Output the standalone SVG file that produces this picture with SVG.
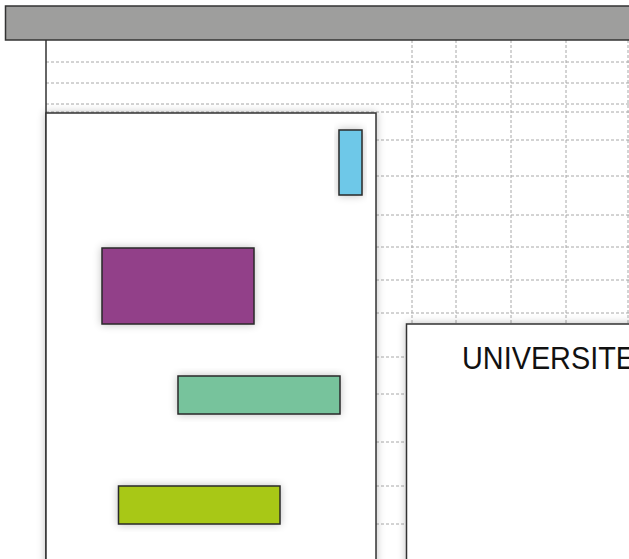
<svg xmlns="http://www.w3.org/2000/svg" width="629" height="559" viewBox="0 0 629 559">
<defs>
<style>
.grid{stroke:#a8a8a8;stroke-width:1;stroke-dasharray:3 2;fill:none}
.frame{fill:#ffffff;stroke:#333333;stroke-width:1.5}
.bar{stroke:#2a2a2a;stroke-width:1.5}
</style>
<filter id="sh" x="-20%" y="-20%" width="140%" height="140%">
<feGaussianBlur in="SourceAlpha" stdDeviation="4"/>
<feComponentTransfer><feFuncA type="linear" slope="0.25"/></feComponentTransfer>
<feMerge><feMergeNode/><feMergeNode in="SourceGraphic"/></feMerge>
</filter>
</defs>
<rect width="629" height="559" fill="#ffffff"/>
<g id="grid">
<g class="grid">
<line x1="46" y1="62" x2="629" y2="62"/>
<line x1="46" y1="83" x2="629" y2="83"/>
<line x1="46" y1="104" x2="629" y2="104"/>
<line x1="46" y1="112" x2="629" y2="112"/>
<line x1="376" y1="140" x2="629" y2="140"/>
<line x1="376" y1="176" x2="629" y2="176"/>
<line x1="376" y1="215" x2="629" y2="215"/>
<line x1="376" y1="247" x2="629" y2="247"/>
<line x1="376" y1="280" x2="629" y2="280"/>
<line x1="376" y1="313" x2="629" y2="313"/>
<line x1="376" y1="357" x2="406" y2="357"/>
<line x1="376" y1="394" x2="406" y2="394"/>
<line x1="376" y1="442" x2="406" y2="442"/>
<line x1="376" y1="486" x2="406" y2="486"/>
<line x1="376" y1="524" x2="406" y2="524"/>
<line x1="412" y1="40" x2="412" y2="324"/>
<line x1="456" y1="40" x2="456" y2="324"/>
<line x1="511" y1="40" x2="511" y2="324"/>
<line x1="566" y1="40" x2="566" y2="324"/>
<line x1="628" y1="40" x2="628" y2="324"/>
</g>
<line x1="46" y1="40" x2="46" y2="559" stroke="#333333" stroke-width="1.5"/>
</g>
<g id="header">
<rect x="5.5" y="6" width="640" height="34" fill="#9e9e9d" stroke="#333333" stroke-width="1.5"/>
</g>
<g id="left-panel">
<rect class="frame" x="46" y="113" width="330" height="470" filter="url(#sh)"/>
</g>
<g id="right-panel">
<rect class="frame" x="406.5" y="324" width="260" height="260" filter="url(#sh)"/>
<text x="462" y="369" font-family="Liberation Sans, Arial, sans-serif" font-size="31" fill="#111111" textLength="173" lengthAdjust="spacingAndGlyphs">UNIVERSITE</text>
</g>
<g id="node-cyan">
<rect class="bar" x="339" y="130" width="23" height="65" fill="#6ec8e8" filter="url(#sh)"/>
</g>
<g id="node-purple">
<rect class="bar" x="102" y="248" width="152" height="76" fill="#923f89" filter="url(#sh)"/>
</g>
<g id="node-green">
<rect class="bar" x="178" y="376" width="162" height="38" fill="#77c39c" filter="url(#sh)"/>
</g>
<g id="node-lime">
<rect class="bar" x="118.5" y="486" width="161.5" height="38" fill="#a8c817" filter="url(#sh)"/>
</g>
<g id="connectors"/>
</svg>
